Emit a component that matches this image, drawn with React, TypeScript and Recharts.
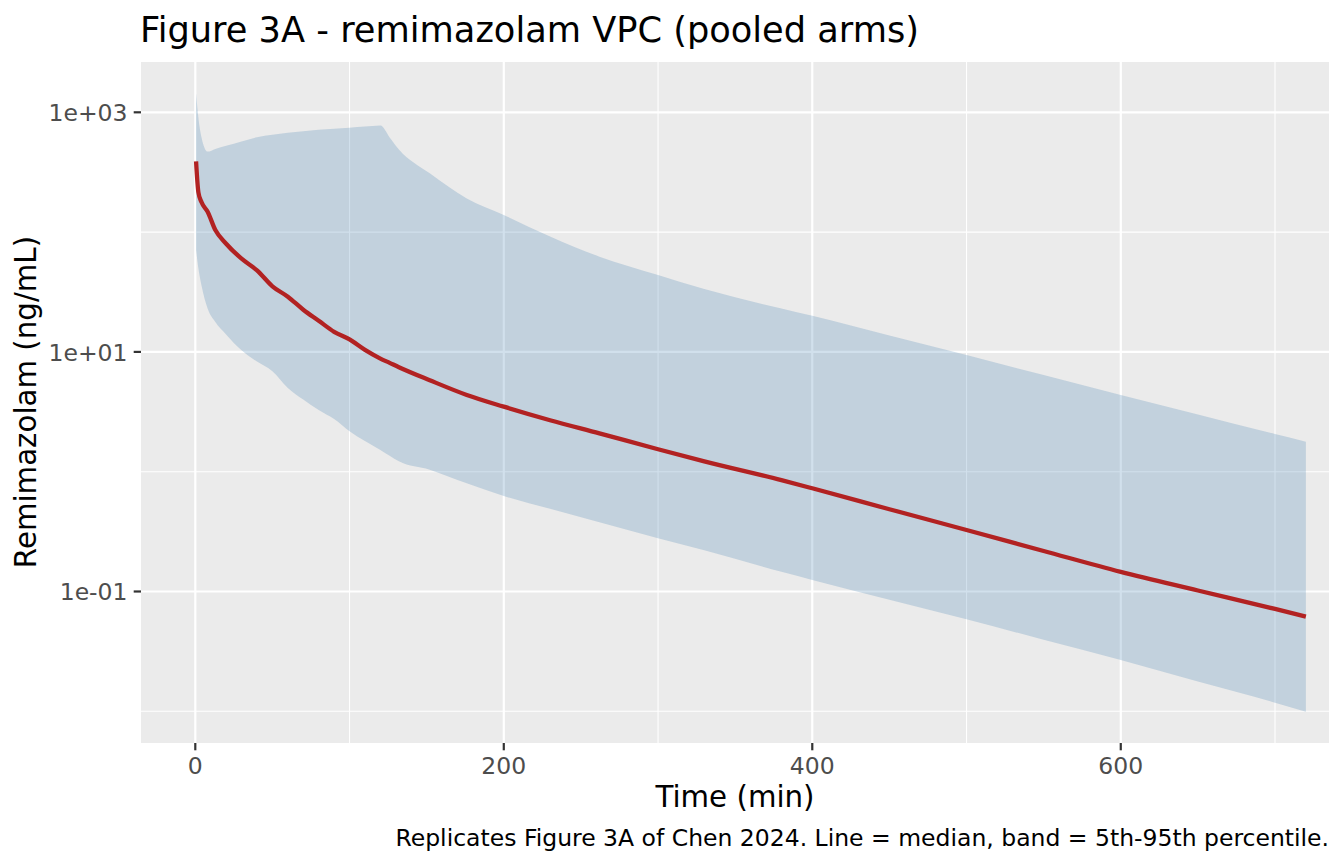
import {
  ComposedChart,
  Area,
  Line,
  XAxis,
  YAxis,
  CartesianGrid,
} from "recharts";

// time after dose (min)
const times = [
  0.5, 2, 4, 8, 13, 20, 30, 40, 50, 60, 70, 80, 90, 100, 110, 120, 126, 132,
  152, 176, 200, 230, 262, 300, 330, 380, 400, 450, 500, 550, 600, 650, 700, 720,
];

// 95th percentile (ng/mL)
const upper95 = [
  1440, 900, 620, 470, 495, 525, 570, 620, 650, 675, 695, 715, 730, 745, 760,
  775, 617, 490, 310, 191, 139, 92, 62.4, 43.9, 33.5, 23, 20, 13.7, 9.4, 6.4,
  4.37, 3.0, 2.06, 1.78,
];

// median (ng/mL)
const median = [
  390, 215, 178, 148, 104, 80, 60, 48, 35.3, 28.9, 22.5, 18.2, 14.7, 12.7, 10.4,
  8.8, 8.1, 7.45, 5.8, 4.37, 3.49, 2.69, 2.09, 1.54, 1.22, 0.85, 0.727, 0.486,
  0.326, 0.218, 0.146, 0.102, 0.0715, 0.0616,
];

// 5th percentile (ng/mL)
const lower5 = [
  71, 50, 36, 23, 17.8, 14, 10.3, 8.3, 6.9, 5.0, 4.0, 3.27, 2.75, 2.18, 1.8,
  1.52, 1.36, 1.22, 1.04, 0.8, 0.627, 0.49, 0.378, 0.278, 0.221, 0.146, 0.125,
  0.0855, 0.0586, 0.0396, 0.0268, 0.0177, 0.0118, 0.0099,
];

const xMajor = [0, 200, 400, 600];
const xMinor = [100, 300, 500, 700];
const yMajor = [1000, 10, 0.1];
const yMinor = [100, 1, 0.01];

const data = times.map((t, i) => ({
  t,
  lo: lower5[i],
  hi: upper95[i],
  med: median[i],
}));

const FONT = "'DejaVu Sans', sans-serif";

const fmtLog = (v: number) => {
  const e = Math.round(Math.log10(v));
  const sign = e < 0 ? "-" : "+";
  return `1e${sign}${String(Math.abs(e)).padStart(2, "0")}`;
};

const XTick = (props: any) => {
  const { x, y, payload } = props;
  return (
    <text x={x} y={y + 23.2} textAnchor="middle" fontSize={23.5} fill="#4D4D4D" fontFamily={FONT}>
      {payload.value}
    </text>
  );
};

const YTick = (props: any) => {
  const { x, y, payload } = props;
  return (
    <text x={x - 6.2} y={y + 8.8} textAnchor="end" fontSize={23.5} fill="#4D4D4D" fontFamily={FONT}>
      {fmtLog(payload.value)}
    </text>
  );
};

export default function App() {
  return (
    <div style={{ position: "absolute", left: 0, top: 0, width: 1344, height: 864, background: "#fff" }}>
      <ComposedChart
        width={1344}
        height={864}
        data={data}
        margin={{ top: 62, right: 15, bottom: 61, left: 0 }}
      >
        <CartesianGrid
          fill="#EBEBEB"
          stroke="#FFFFFF"
          strokeWidth={1.1}
          horizontalValues={yMinor}
          verticalValues={xMinor}
        />
        <CartesianGrid
          stroke="#FFFFFF"
          strokeWidth={2.2}
          horizontalValues={yMajor}
          verticalValues={xMajor}
        />
        <XAxis
          dataKey="t"
          type="number"
          domain={[-35.2, 735]}
          allowDataOverflow
          ticks={xMajor}
          height={60}
          axisLine={false}
          tickLine={{ stroke: "#333333", strokeWidth: 2.2 }}
          tickSize={7.3}
          tickMargin={0}
          tick={<XTick />}
        />
        <YAxis
          type="number"
          scale="log"
          domain={[0.005437, 2630]}
          allowDataOverflow
          ticks={yMajor}
          width={141}
          axisLine={false}
          tickLine={{ stroke: "#333333", strokeWidth: 2.2 }}
          tickSize={7.3}
          tickMargin={0}
          tick={<YTick />}
        />
        <Area
          dataKey={(d: any) => [d.lo, d.hi]}
          type="monotone"
          fill="steelblue"
          fillOpacity={0.25}
          stroke="none"
          isAnimationActive={false}
        />
        <Line
          dataKey="med"
          type="monotone"
          stroke="#B22222"
          strokeWidth={4.3}
          dot={false}
          isAnimationActive={false}
        />
      </ComposedChart>
      <svg
        width={1344}
        height={864}
        style={{ position: "absolute", left: 0, top: 0, pointerEvents: "none" }}
      >
        <text x={140} y={41.5} fontSize={35.2} fill="#000" fontFamily={FONT}>
          Figure 3A - remimazolam VPC (pooled arms)
        </text>
        <text x={735} y={806.5} fontSize={29.3} fill="#000" textAnchor="middle" fontFamily={FONT}>
          Time (min)
        </text>
        <text
          transform="translate(36 402) rotate(-90)"
          fontSize={29.3}
          fill="#000"
          textAnchor="middle"
          fontFamily={FONT}
        >
          Remimazolam (ng/mL)
        </text>
        <text x={1329} y={845.5} fontSize={23.5} fill="#000" textAnchor="end" fontFamily={FONT}>
          Replicates Figure 3A of Chen 2024. Line = median, band = 5th-95th percentile.
        </text>
      </svg>
    </div>
  );
}
